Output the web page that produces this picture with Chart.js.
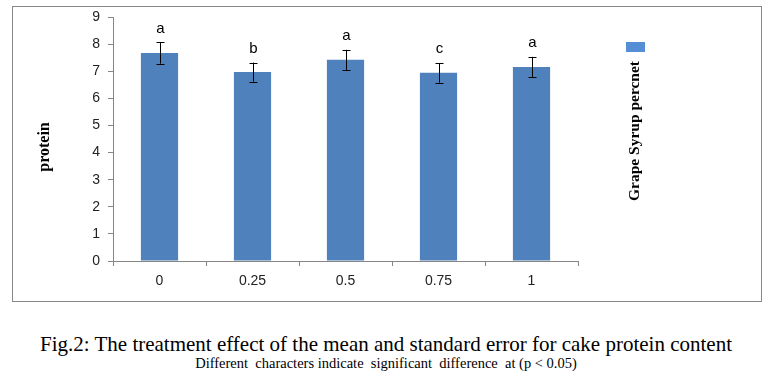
<!DOCTYPE html>
<html lang="en">
<head>
    <meta charset="UTF-8">
    <script src="https://cdn.jsdelivr.net/npm/chart.js"></script>
    <title>Protein</title>
    <style>
        body { margin: 0; background: #fff; }
        #wrap { position: relative; width: 772px; height: 378px; }
        #frame { position: absolute; left: 12px; top: 6px; width: 748px; height: 294px; border: 1px solid #888; }
        #myChart { position: absolute; left: 0; top: 0; }
        .cap { position: absolute; left: 0; width: 772px; text-align: center; font-family: "Liberation Serif", serif; color: #000; white-space: pre; }
        #cap1 { top: 332px; font-size: 21px; }
        #cap2 { top: 355px; font-size: 14.5px; }
    </style>
</head>
<body>
<div id="wrap">
    <div id="frame"></div>
    <canvas id="myChart" width="772" height="305"></canvas>
    <div class="cap" id="cap1">Fig.2: The treatment effect of the mean and standard error for cake protein content</div>
    <div class="cap" id="cap2">Different  characters indicate  significant  difference  at (p &lt; 0.05)</div>
</div>

<script>
    const categories = ["0", "0.25", "0.5", "0.75", "1"];
    const protein = [7.67, 6.97, 7.42, 6.94, 7.16];
    const stdErr = [0.39, 0.35, 0.37, 0.36, 0.37];
    const letters = ["a", "b", "a", "c", "a"];
    const seriesName = "Grape Syrup percnet";
    const yTitle = "protein";

    // error bars + significance letters
    const extras = {
        id: 'extras',
        afterDatasetsDraw(chart) {
            const ctx = chart.ctx;
            const y = chart.scales.y;
            const meta = chart.getDatasetMeta(0);
            ctx.save();
            meta.data.forEach(function(bar, i) {
                const x = Math.round(bar.x) + 0.5;
                const top = y.getPixelForValue(protein[i] + stdErr[i]);
                const bot = y.getPixelForValue(protein[i] - stdErr[i]);
                ctx.strokeStyle = '#000';
                ctx.lineWidth = 1;
                ctx.beginPath();
                ctx.moveTo(x, top); ctx.lineTo(x, bot);
                ctx.moveTo(x - 4, Math.round(top) + 0.5); ctx.lineTo(x + 4, Math.round(top) + 0.5);
                ctx.moveTo(x - 4, Math.round(bot) + 0.5); ctx.lineTo(x + 4, Math.round(bot) + 0.5);
                ctx.stroke();
                ctx.fillStyle = '#000';
                ctx.font = '15px "Liberation Sans"';
                ctx.textAlign = 'center';
                ctx.textBaseline = 'middle';
                ctx.fillText(letters[i], x, top - 14);
            });
            ctx.restore();
        }
    };

    // rotated legend on the right and rotated y title
    const sideText = {
        id: 'sideText',
        afterDraw(chart) {
            const ctx = chart.ctx;
            ctx.save();
            ctx.fillStyle = '#558ED5';
            ctx.fillRect(626, 42, 19, 10);
            ctx.fillStyle = '#000';
            ctx.textAlign = 'center';
            ctx.textBaseline = 'middle';

            ctx.save();
            ctx.translate(635, 131);
            ctx.rotate(-Math.PI / 2);
            ctx.font = 'bold 15.5px "Liberation Serif"';
            ctx.fillText(seriesName, 0, 0);
            ctx.restore();

            ctx.translate(45, 147);
            ctx.rotate(-Math.PI / 2);
            ctx.font = 'bold 16px "Liberation Serif"';
            ctx.fillText(yTitle, 0, 0);
            ctx.restore();
        }
    };

    new Chart("myChart", {
        type: 'bar',
        data: {
            labels: categories,
            datasets: [{
                label: seriesName,
                data: protein,
                backgroundColor: '#4F81BD',
                barPercentage: 0.4,
                categoryPercentage: 1
            }]
        },
        options: {
            responsive: false,
            animation: false,
            layout: { padding: { left: 0, right: 194, top: 17, bottom: 0 } },
            plugins: { legend: { display: false }, tooltip: { enabled: false } },
            scales: {
                x: {
                    grid: { drawOnChartArea: false, tickLength: 5, color: '#868686' },
                    border: { color: '#868686' },
                    ticks: { font: { family: 'Liberation Sans', size: 14 }, color: '#222', padding: 7 },
                    afterFit(scale) { scale.height = 44; }
                },
                y: {
                    min: 0,
                    max: 9,
                    ticks: { stepSize: 1, font: { family: 'Liberation Sans', size: 14 }, color: '#222', padding: 8 },
                    grid: { drawOnChartArea: false, tickLength: 5, color: '#868686' },
                    border: { color: '#868686' },
                    afterFit(scale) { scale.width = 113; }
                }
            }
        },
        plugins: [extras, sideText]
    });
</script>
</body>
</html>
